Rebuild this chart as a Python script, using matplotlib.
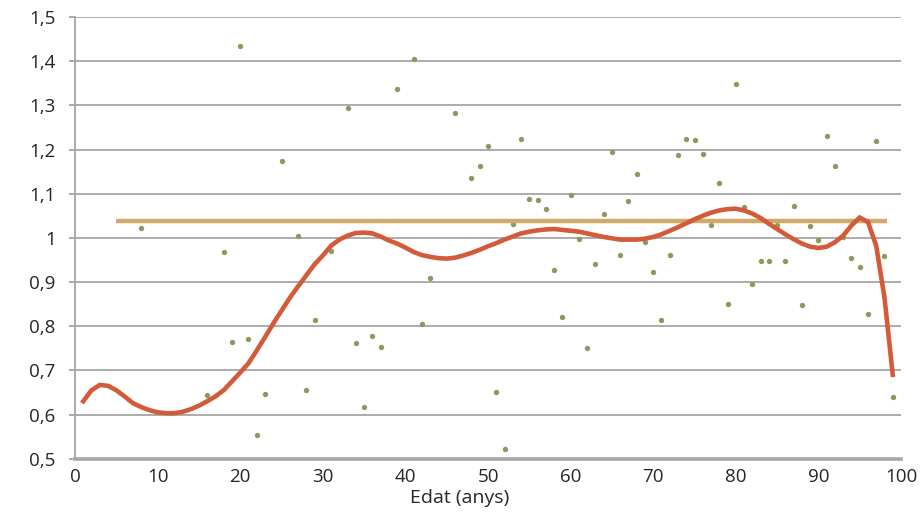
import numpy as np
import matplotlib.pyplot as plt
from matplotlib.ticker import FuncFormatter, FixedLocator

# observed ratio by age (points)
edat_punts = [8, 16, 18, 19, 20, 21, 22, 23, 25, 27, 28, 29, 31, 33, 34, 35, 36, 37,
              39, 41, 42, 43, 46, 48, 49, 50, 51, 52, 53, 54, 55, 56, 57, 58, 59, 60,
              61, 62, 63, 64, 65, 66, 67, 68, 69, 70, 71, 72, 73, 74, 75, 76, 77, 78,
              79, 80, 81, 82, 83, 84, 85, 86, 87, 88, 89, 90, 91, 92, 93, 94, 95, 96,
              97, 98, 99]
valors_punts = [1.022, 0.645, 0.969, 0.764, 1.434, 0.771, 0.554, 0.647, 1.175, 1.004,
                0.656, 0.813, 0.971, 1.293, 0.763, 0.616, 0.778, 0.754,
                1.337, 1.404, 0.805, 0.908, 1.283, 1.135, 1.162, 1.209, 0.652, 0.521,
                1.031, 1.224, 1.088, 1.085, 1.066, 0.927, 0.820, 1.096,
                0.997, 0.750, 0.941, 1.054, 1.195, 0.962, 1.084, 1.145, 0.990, 0.922,
                0.813, 0.962, 1.188, 1.224, 1.222, 1.189, 1.029, 1.125,
                0.850, 1.348, 1.069, 0.895, 0.948, 0.948, 1.030, 0.948, 1.071, 0.848,
                1.026, 0.995, 1.231, 1.162, 1.002, 0.955, 0.934, 0.827,
                1.219, 0.958, 0.640]

# smoothed curve
edat_corba = list(range(1, 100))
valors_corba = [0.630, 0.655, 0.667, 0.665, 0.655, 0.641, 0.626, 0.617, 0.610, 0.605,
                0.603, 0.603, 0.606, 0.612, 0.620, 0.630, 0.641, 0.655, 0.675, 0.695,
                0.716, 0.745, 0.775, 0.806, 0.835, 0.864, 0.890, 0.915, 0.940, 0.960,
                0.982, 0.996, 1.005, 1.011, 1.012, 1.010, 1.003, 0.994, 0.987, 0.978,
                0.968, 0.961, 0.957, 0.954, 0.953, 0.955, 0.960, 0.966, 0.973, 0.981,
                0.988, 0.996, 1.003, 1.010, 1.014, 1.017, 1.019, 1.020, 1.018, 1.016,
                1.014, 1.010, 1.006, 1.002, 0.999, 0.996, 0.996, 0.996, 0.998, 1.002,
                1.008, 1.016, 1.024, 1.033, 1.042, 1.050, 1.057, 1.062, 1.065, 1.066,
                1.062, 1.055, 1.045, 1.032, 1.020, 1.008, 0.997, 0.987, 0.980, 0.977,
                0.980, 0.990, 1.005, 1.028, 1.046, 1.036, 0.982, 0.865, 0.690]

# mean level
mitjana = 1.038
mitjana_edats = [5, 98.3]

ticks_y = [0.5, 0.6, 0.7, 0.8, 0.9, 1.0, 1.1, 1.2, 1.3, 1.4, 1.5]
ticks_x = [0, 10, 20, 30, 40, 50, 60, 70, 80, 90, 100]

plt.rcParams['font.family'] = ['Open Sans', 'DejaVu Sans']

fig = plt.figure(figsize=(9.22, 5.16), dpi=100)
ax = fig.add_axes([75 / 922, 1 - 458.7 / 516, 826 / 922, (458.7 - 17) / 516])

gris = '#A6A6A6'
text = '#262626'
ax.scatter(edat_punts, valors_punts, s=15, color='#8A9B5C', zorder=2, linewidths=0)
ax.plot(mitjana_edats, [mitjana, mitjana], color='#D2A96A', lw=3.2, zorder=3,
        solid_capstyle='butt')
ax.plot(edat_corba, valors_corba, color='#D35B3A', lw=3.3, zorder=4,
        solid_joinstyle='miter')

ax.set_xlim(0, 100)
ax.set_ylim(0.5, 1.5)
ax.set_xticks(ticks_x)
ax.set_yticks(ticks_y)
ax.yaxis.set_major_formatter(FuncFormatter(lambda v, p: f'{v:g}'.replace('.', ',')))
ax.grid(axis='y', color=gris, lw=1.3)
ax.set_axisbelow(True)

for s in ['top', 'right']:
    ax.spines[s].set_visible(False)
ax.spines['left'].set_color(gris)
ax.spines['left'].set_linewidth(1.3)
ax.spines['bottom'].set_color(gris)
ax.spines['bottom'].set_linewidth(2.6)
ax.spines['bottom'].set_zorder(5)

ax.tick_params(axis='y', length=4, width=1.3, color=gris, pad=10,
               labelsize=13.5, labelcolor=text)
ax.tick_params(axis='x', length=0, pad=7, labelsize=13.5, labelcolor=text)
ax.xaxis.set_minor_locator(FixedLocator([0, 100]))
ax.tick_params(axis='x', which='minor', length=5, width=2.6, color=gris)

ax.set_xlabel('Edat (anys)', fontsize=14, color=text)
ax.xaxis.set_label_coords(0.466, -0.068)

fig.savefig('out.png', dpi=100)
